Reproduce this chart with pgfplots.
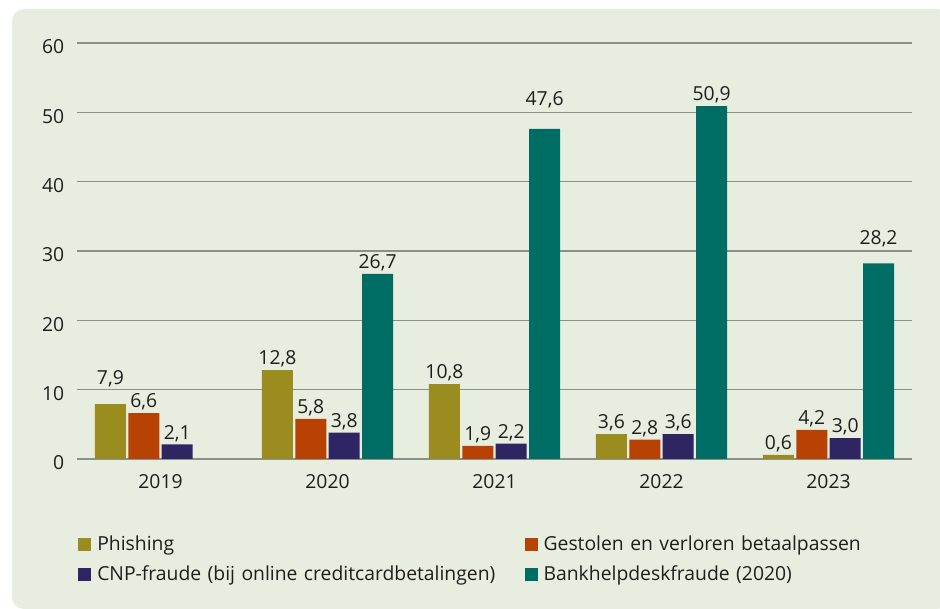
\documentclass[border=0pt]{standalone}
\usepackage{pgfplots}
\pgfplotsset{compat=1.18}
\usepackage{fontspec}
\setmainfont{Open Sans}
\definecolor{bg}{HTML}{E8EEDF}
\definecolor{cphish}{HTML}{9A8C1E}
\definecolor{cgest}{HTML}{B84104}
\definecolor{ccnp}{HTML}{2E2562}
\definecolor{cbank}{HTML}{006D65}
\definecolor{cgrid}{HTML}{8C908A}
\definecolor{ctext}{HTML}{1E1E1E}
\begin{document}
\begin{tikzpicture}[x=1pt,y=1pt]
\fill[bg, rounded corners=9pt] (9,0) rectangle (712,450);
\begin{axis}[
  at={(57.75pt,112.5pt)}, anchor=south west,
  scale only axis, width=626.25pt, height=312pt,
  xmin=-0.5, xmax=4.5, ymin=0, ymax=60,
  ytick={0,10,...,60},
  xtick={0,1,2,3,4},
  xticklabels={2019,2020,2021,2022,2023},
  major tick length=0pt,
  axis line style={draw=none},
  ymajorgrids, grid style={cgrid, line width=1.1pt},
  font=\fontsize{14.5}{17}\selectfont,
  ticklabel style={text=ctext},
  /pgf/number format/assume math mode=true,
  yticklabel style={xshift=-6pt, yshift=-3pt},
  xticklabel style={yshift=-8pt},
  ybar, bar width=0.186,
  clip=false,
  nodes near coords,
  visualization depends on={\thisrow{dy} \as \dy},
  every node near coord/.append style={font=\fontsize{14.5}{17}\selectfont, text=ctext, inner sep=2pt, yshift=\dy pt},
  nodes near coords style={/pgf/number format/.cd, fixed, fixed zerofill, precision=1, use comma, assume math mode=true},
  legend columns=2,
  legend image code/.code={\fill[#1] (0pt,0pt) rectangle (9.75pt,9.75pt);},
  legend style={draw=none, fill=none, inner sep=0pt,
    at={(rel axis cs:0,0)}, anchor=north west, xshift=0.75pt, yshift=-58.5pt,
    nodes={inner sep=0pt, anchor=base west, text depth=3pt, text height=10pt, text=ctext},
    /tikz/column sep=4.5pt, /tikz/row sep=9.5pt,
    /tikz/every even column/.append style={text width=316pt},
    font=\fontsize{14.5}{17}\selectfont},
]
\addplot+[draw=none, fill=cphish, bar shift=-0.3] table {
x y dy
0 7.9 10.5
1 12.8 0
2 10.8 0
3 3.6 0
4 0.6 0
};
\addplot+[draw=none, fill=cgest, bar shift=-0.1] table {
x y dy
0 6.6 0
1 5.8 0
2 1.9 0
3 2.8 0
4 4.2 0
};
\addplot+[draw=none, fill=ccnp, bar shift=0.1] table {
x y dy
0 2.1 0
1 3.8 0
2 2.2 0
3 3.6 0
4 3.0 0
};
\addplot+[draw=none, fill=cbank, bar shift=0.3] table {
x y dy
1 26.7 0
2 47.6 13.5
3 50.9 0
4 28.2 10
};
\legend{Phishing, Gestolen en verloren betaalpassen, CNP-fraude (bij online creditcardbetalingen), Bankhelpdeskfraude (2020)}
\end{axis}
\pgfresetboundingbox
\useasboundingbox (0,0) rectangle (705,456.75);
\end{tikzpicture}
\end{document}
